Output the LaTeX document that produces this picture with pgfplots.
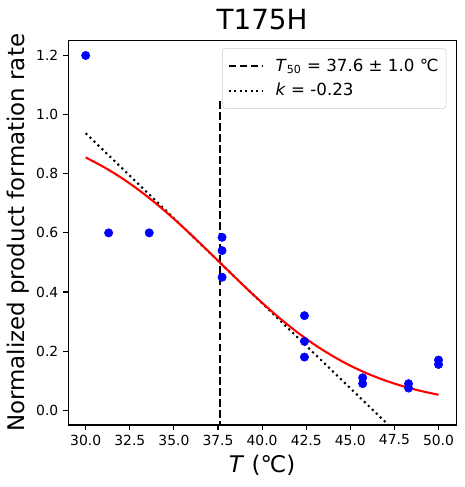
\documentclass[border=0pt]{standalone}
\usepackage{fontspec}
\setmainfont{DejaVu Sans}
\usepackage{pgfplots}
\pgfplotsset{compat=1.18}
\begin{document}
\begin{tikzpicture}
\begin{axis}[
  scale only axis, width=279.4pt, height=276.7pt,
  xmin=29, xmax=51, ymin=-0.05, ymax=1.25,
  xtick={30,32.5,35,37.5,40,42.5,45,47.5,50},
  ytick={0,0.2,0.4,0.6,0.8,1.0,1.2},
  /pgf/number format/assume math mode=true,
  xticklabel={\pgfmathprintnumber[fixed,fixed zerofill,precision=1]{\tick}},
  yticklabel={\pgfmathprintnumber[fixed,fixed zerofill,precision=1]{\tick}},
  tick label style={font=\fontsize{10}{12}\selectfont},
  tick align=outside, xtick pos=bottom, ytick pos=left,
  major tick length=3.5pt,
  every tick/.style={line width=0.8pt, black},
  axis line style={line width=0.8pt},
  title={T175H},
  title style={font=\fontsize{20}{24}\selectfont, yshift=-2pt},
  xlabel={\textit{T} (℃)},
  ylabel={Normalized product formation rate},
  ylabel shift=-2pt,
  label style={font=\fontsize{16.5}{19}\selectfont},
  legend style={at={(1,1)}, anchor=north east, xshift=-7pt, yshift=-5.5pt,
    draw=black!20, rounded corners=2pt, fill=white, fill opacity=0.8, text opacity=1,
    font=\fontsize{12}{14}\selectfont, row sep=3pt, inner xsep=3.5pt, inner ysep=5.5pt},
  legend cell align=left,
  legend image code/.code={\draw[#1] (0cm,0cm) -- (0.85cm,0cm);},
]
\addplot[black, line width=1.5pt, dash pattern=on 5.55pt off 2.4pt] coordinates {(37.6,-0.1) (37.6,1.05)};
\addlegendentry{\hspace{7pt}\textit{T}\textsubscript{50} = 37.6 ± 1.0 ℃}
\addplot[black, line width=1.5pt, dash pattern=on 1.5pt off 2.475pt] coordinates {(30,0.937) (50,-0.213)};
\addlegendentry{\hspace{7pt}\textit{k} = -0.23}
\addplot[red, line width=1.5pt, smooth, forget plot] coordinates {
(30,0.855) (31,0.8236) (32,0.7871) (33,0.7454) (34,0.6985) (35,0.6473) (36,0.5923)
(37,0.5350) (38,0.4767) (39,0.4190) (40,0.3635) (41,0.3113) (42,0.2636) (43,0.2208)
(44,0.1833) (45,0.1508) (46,0.1233) (47,0.1002) (48,0.0810) (49,0.0653) (50,0.0524)};
\addplot[only marks, mark=*, mark size=3pt, blue, forget plot] coordinates {
(30,1.2) (31.3,0.6) (33.6,0.6)
(37.73,0.585) (37.73,0.54) (37.73,0.45)
(42.4,0.32) (42.4,0.233) (42.4,0.18)
(45.7,0.11) (45.7,0.09)
(48.3,0.09) (48.3,0.075)
(50,0.17) (50,0.155)};
\end{axis}
\pgfresetboundingbox
\path ([shift={(-49pt,-44.6pt)}]current axis.south west) rectangle ([shift={(5.8pt,29.3pt)}]current axis.north east);
\end{tikzpicture}
\end{document}
